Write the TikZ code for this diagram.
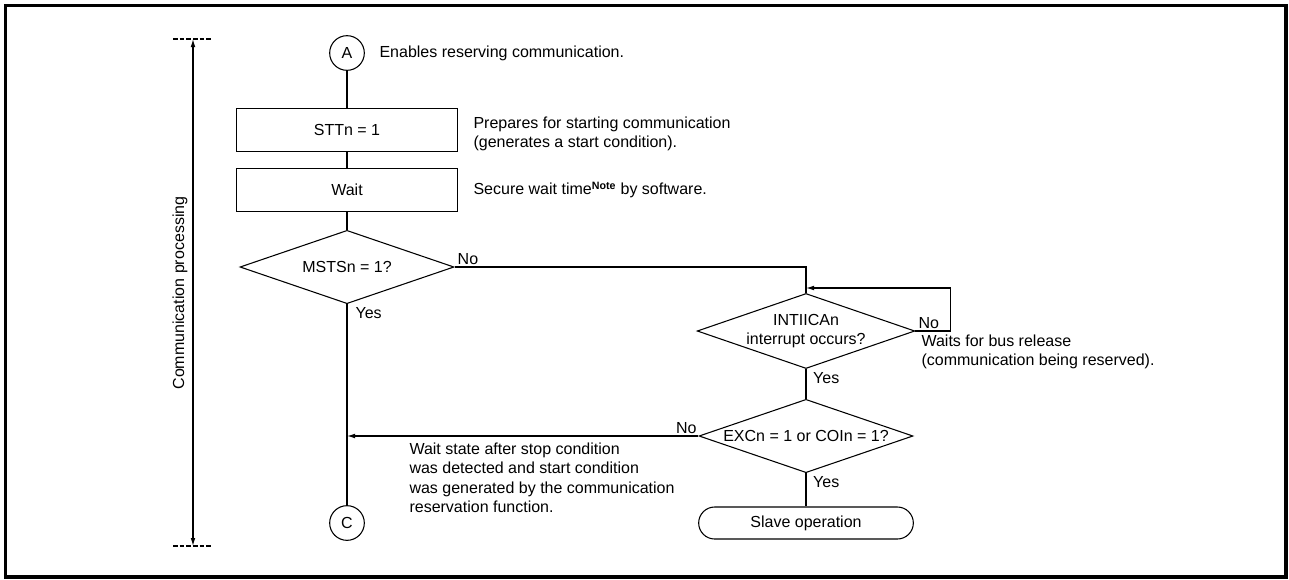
\documentclass[tikz,border=0pt]{standalone}
\usepackage{fontspec}
\setmainfont{Liberation Sans}
\usetikzlibrary{arrows.meta, positioning, shapes.geometric}

\begin{document}
\begin{tikzpicture}[x=0.75pt, y=-0.75pt,
  font=\fontsize{12pt}{14.6pt}\selectfont,
  line width=0.8pt,
  procbox/.style={draw, rectangle, minimum width=165.75pt, minimum height=32pt, inner sep=0pt},
  decision/.style={draw, diamond, aspect=2.9, minimum width=160.5pt, minimum height=55pt, inner sep=0pt, align=center},
  connector/.style={draw, circle, minimum size=26pt, inner sep=0pt},
  terminal/.style={draw, rectangle, rounded corners=12pt, minimum width=161pt, minimum height=24pt, inner sep=0pt},
  note/.style={anchor=west, align=left, inner sep=0pt},
  flow/.style={-{Latex[length=6pt,width=3.5pt]}},
  yesno/.style={inner sep=1pt}
]
  \useasboundingbox (0,0) rectangle (1289,579);

  % Frame
  \draw[line width=2.4pt] (5.5,5.5) rectangle (1286,577);

  % Span of communication processing
  \coordinate (dimtop) at (193,39);
  \coordinate (dimbot) at (193,546);
  \draw[line width=1.1pt, dash pattern=on 3.5pt off 1.5pt] (173,39) -- (213,39);
  \draw[line width=1.1pt, dash pattern=on 3.5pt off 1.5pt] (173,546) -- (213,546);
  \draw[{Latex[length=6pt,width=3.5pt]}-{Latex[length=6pt,width=3.5pt]}] (dimtop) -- (dimbot);
  \node[rotate=90] (span) at (180,293) {Communication processing};

  % Main column
  \node[connector] (cA) at (347,53) {A};
  \node[note] (tA) at (379,53) {Enables reserving communication.};

  \node[procbox] (stt) at (347,130) {STTn = 1};
  \node[note] (tstt) at (473,134)
       {Prepares for starting communication\\(generates a start condition).};

  \node[procbox] (wait) at (347,190) {Wait};
  \node[note] (twait) at (473,190)
       {Secure wait time\textsuperscript{\bfseries Note} by software.};

  \node[decision] (msts) at (347,267) {MSTSn = 1?};

  \node[connector] (cC) at (347,523) {C};

  % Right column
  \node[decision] (intr) at (806,331) {INTIICAn\\interrupt occurs?};
  \node[note] (tintr) at (921,352)
       {Waits for bus release\\(communication being reserved).};

  \node[decision] (exc) at (806,436) {EXCn = 1 or COIn = 1?};
  \node[note] (texc) at (409,478)
       {Wait state after stop condition\\was detected and start condition\\was generated by the communication\\reservation function.};

  \node[terminal] (slave) at (806,523) {Slave operation};

  % Connectors
  \draw (cA) -- (stt);
  \draw (stt) -- (wait);
  \draw (wait) -- (msts);
  \draw (msts) -- (cC);
  \node[yesno, below right=1pt and 5pt] at (msts.south) {Yes};

  \draw (msts.east) -| (intr.north);
  \node[yesno, above right=0pt and 1pt] at (msts.east) {No};

  \coordinate (loopin) at (806,288);
  \draw[flow] (intr.east) -- ++(35,0) |- (loopin);
  \node[yesno, above right=0pt and 1pt] at (intr.east) {No};

  \draw (intr) -- (exc);
  \node[yesno, below right=1pt and 4pt] at (intr.south) {Yes};

  \coordinate (merge) at (exc.west -| cC);
  \draw[flow] (exc.west) -- (merge);
  \node[yesno, above left=0pt and 0pt] at (exc.west) {No};

  \draw (exc) -- (slave);
  \node[yesno, below right=1pt and 4pt] at (exc.south) {Yes};
\end{tikzpicture}
\end{document}
